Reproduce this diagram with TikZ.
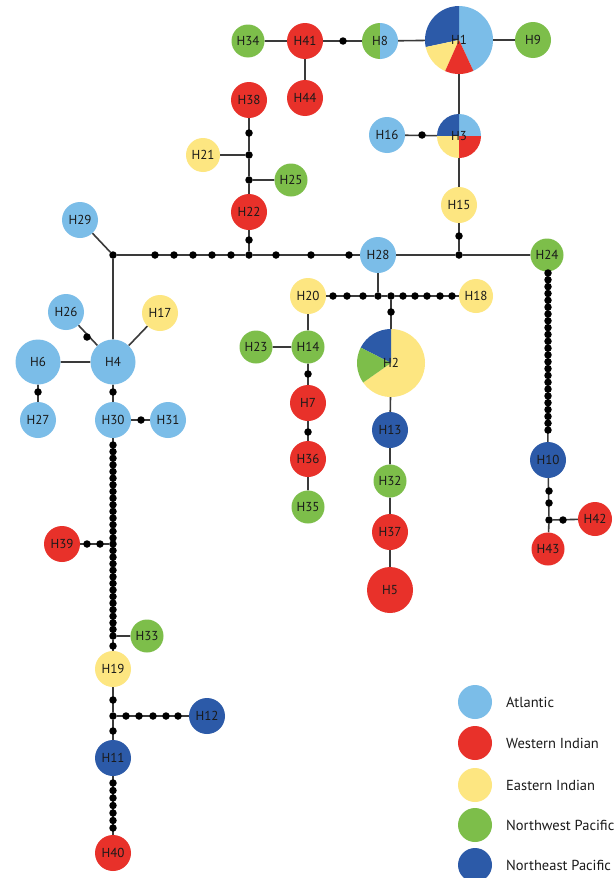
\documentclass[tikz,border=0pt]{standalone}
\usepackage{fontspec}
\setmainfont{PT Sans}
\usetikzlibrary{backgrounds}
\definecolor{atl}{HTML}{7BBDE8}
\definecolor{wio}{HTML}{E8312A}
\definecolor{eio}{HTML}{FDE681}
\definecolor{nwp}{HTML}{7DBE4A}
\definecolor{nep}{HTML}{2C5AA8}
\definecolor{edgec}{HTML}{3A3A3A}
\definecolor{txt}{HTML}{1A1A1A}
\tikzset{
  hap/.style={circle, inner sep=0pt, minimum size=36pt, text=txt, font=\fontsize{13}{15}\selectfont},
  sm/.style={minimum size=33pt},
  big/.style={minimum size=45pt},
  mv/.style={circle, fill=black, inner sep=0pt, minimum size=7.5pt},
  link/.style={draw=edgec, line width=1.6pt},
  A/.style={hap, fill=atl}, W/.style={hap, fill=wio}, E/.style={hap, fill=eio},
  G/.style={hap, fill=nwp}, B/.style={hap, fill=nep},
  legtxt/.style={anchor=west, inner sep=0pt, font=\fontsize{14.5}{17}\selectfont, text=txt}
}
\begin{document}
\begin{tikzpicture}[x=1pt, y=-1pt]
\useasboundingbox (0,0) rectangle (613,878);
% haplotypes
\node[G, sm] (H34) at (248,41) {H34};
\node[W] (H41) at (305,41) {H41};
\node[hap] (H8) at (380,41) {H8};
\node[hap, minimum size=68pt] (H1) at (459,40) {H1};
\node[G] (H9) at (533,40) {H9};
\node[W] (H44) at (305,98) {H44};
\node[W] (H38) at (249,100) {H38};
\node[A] (H16) at (387,135) {H16};
\node[hap, minimum size=44pt] (H3) at (459,136) {H3};
\node[E, minimum size=34pt] (H21) at (203,155) {H21};
\node[G, sm] (H25) at (291,180) {H25};
\node[W] (H22) at (249,212) {H22};
\node[E] (H15) at (459,205) {H15};
\node[A] (H28) at (378,255) {H28};
\node[G, sm] (H24) at (547,255) {H24};
\node[A] (H29) at (80,220) {H29};
\node[A] (H26) at (66,312) {H26};
\node[E] (H17) at (160,313) {H17};
\node[A, big] (H6) at (38,362) {H6};
\node[A, big] (H4) at (113,362) {H4};
\node[A] (H27) at (38,420) {H27};
\node[A] (H30) at (113,420) {H30};
\node[A] (H31) at (168,420) {H31};
\node[W] (H39) at (62,544) {H39};
\node[G, sm] (H33) at (147,636) {H33};
\node[E] (H19) at (113,669) {H19};
\node[B] (H12) at (207,716) {H12};
\node[B] (H11) at (113,758) {H11};
\node[W] (H40) at (113,853) {H40};
\node[E] (H20) at (308,296) {H20};
\node[E, minimum size=34pt] (H18) at (476,296) {H18};
\node[G, sm] (H23) at (256,347) {H23};
\node[G, sm] (H14) at (308,347) {H14};
\node[W] (H7) at (308,403) {H7};
\node[W] (H36) at (308,459) {H36};
\node[G, sm] (H35) at (308,507) {H35};
\node[hap, minimum size=68pt] (H2) at (391,363) {H2};
\node[B] (H13) at (390,430) {H13};
\node[G, sm] (H32) at (390,481) {H32};
\node[W] (H37) at (390,532) {H37};
\node[W, minimum size=46pt] (H5) at (390,590) {H5};
\node[B] (H10) at (548,460) {H10};
\node[W, minimum size=34pt] (H42) at (595,519) {H42};
\node[W, sm] (H43) at (548,549) {H43};
% junctions
\node[mv] (j1) at (113,255) {};
\node[mv] (j22) at (249,255) {};
\node[mv] (j15) at (459,255) {};
\node[mv] (j21) at (249,155) {};
\node[mv] (j25) at (249,180) {};
\node[mv] (j28) at (378,296) {};
\node[mv] (j2) at (391,296) {};
\node[mv] (j39) at (113,544) {};
\node[mv] (j33) at (113,636) {};
\node[mv] (j12) at (113,716) {};
\node[mv] (j42) at (549,520) {};
% single mutation dots
\node[mv] (m1) at (343,41) {};
\node[mv] (m2) at (422,135) {};
\node[mv] (m3) at (249,133) {};
\node[mv] (m4) at (249,240) {};
\node[mv] (m5) at (459,236) {};
\node[mv] (m6) at (87,337) {};
\node[mv] (m7) at (38,392) {};
\node[mv] (m8) at (113,392) {};
\node[mv] (m9) at (141,420) {};
\node[mv] (m10) at (113,646) {};
\node[mv] (m11) at (113,700) {};
\node[mv] (m12) at (113,731) {};
\node[mv] (m13) at (391,312) {};
\node[mv] (m14) at (308,374) {};
\node[mv] (m15) at (308,432) {};
\node[mv] (m16) at (563,520) {};
% chains of mutation dots
\foreach \x [count=\i] in {155,174,193,212,231} \node[mv] (ba\i) at (\x,255) {};
\foreach \x [count=\i] in {276,311,349} \node[mv] (bb\i) at (\x,255) {};
\foreach \x [count=\i] in {333,347,363} \node[mv] (ha\i) at (\x,296) {};
\foreach \x [count=\i] in {403,415,427,440,452} \node[mv] (hb\i) at (\x,296) {};
\foreach \x [count=\i] in {87,100} \node[mv] (la\i) at (\x,544) {};
\foreach \x [count=\i] in {126,139,153,166,178} \node[mv] (lb\i) at (\x,716) {};
\foreach \y [count=\i] in {491,503} \node[mv] (ra\i) at (549,\y) {};
\foreach \i in {0,...,23} {\pgfmathsetmacro{\yy}{273+\i*6.83}\node[mv] (ca\i) at (548,\yy) {};}
\foreach \i in {0,...,14} {\pgfmathsetmacro{\yy}{445+\i*6.64}\node[mv] (cb\i) at (113,\yy) {};}
\foreach \i in {1,...,13} {\pgfmathsetmacro{\yy}{544+\i*6.57}\node[mv] (cc\i) at (113,\yy) {};}
\foreach \i in {0,...,6} {\pgfmathsetmacro{\yy}{783+\i*7.5}\node[mv] (cd\i) at (113,\yy) {};}
% legend
\foreach \c/\t/\y [count=\i] in {atl/Atlantic/702, wio/Western Indian/743, eio/Eastern Indian/785, nwp/Northwest Pacific/825, nep/Northeast Pacific/865} {
  \node[hap, fill=\c, minimum size=34pt] (L\i) at (475,\y) {};
  \node[legtxt] (T\i) at (506,\y) {\t};
}
\begin{pgfonlayer}{background}
\fill[white] (0,0) rectangle (613,878);
% pie slices
\fill[nwp] (H8.center) -- ++(90:18pt) arc[start angle=90, end angle=270, radius=18pt] -- cycle;
\fill[atl] (H8.center) -- ++(-90:18pt) arc[start angle=-90, end angle=90, radius=18pt] -- cycle;
\fill[atl] (H1.center) -- ++(-65:34pt) arc[start angle=-65, end angle=90, radius=34pt] -- cycle;
\fill[nep] (H1.center) -- ++(90:34pt) arc[start angle=90, end angle=192, radius=34pt] -- cycle;
\fill[eio] (H1.center) -- ++(192:34pt) arc[start angle=192, end angle=246, radius=34pt] -- cycle;
\fill[wio] (H1.center) -- ++(246:34pt) arc[start angle=246, end angle=295, radius=34pt] -- cycle;
\fill[atl] (H3.center) -- ++(0:22pt) arc[start angle=0, end angle=90, radius=22pt] -- cycle;
\fill[nep] (H3.center) -- ++(90:22pt) arc[start angle=90, end angle=180, radius=22pt] -- cycle;
\fill[eio] (H3.center) -- ++(180:22pt) arc[start angle=180, end angle=270, radius=22pt] -- cycle;
\fill[wio] (H3.center) -- ++(270:22pt) arc[start angle=270, end angle=360, radius=22pt] -- cycle;
\fill[eio] (H2.center) -- ++(-145:34pt) arc[start angle=-145, end angle=90, radius=34pt] -- cycle;
\fill[nep] (H2.center) -- ++(90:34pt) arc[start angle=90, end angle=153, radius=34pt] -- cycle;
\fill[nwp] (H2.center) -- ++(153:34pt) arc[start angle=153, end angle=215, radius=34pt] -- cycle;
% connectors
\draw[link] (H34) -- (H41) (H41) -- (H8) (H41) -- (H44) (H8) -- (H1) (H1) -- (H9)
  (H1) -- (H3) (H16) -- (H3) (H3) -- (H15) (H15) -- (j15)
  (H38) -- (j21) (j21) -- (H21) (j21) -- (j25) (j25) -- (H25) (j25) -- (H22) (H22) -- (j22)
  (H29) -- (j1) (j1) -- (j22) (j22) -- (H28) (H28) -- (j15) (j15) -- (H24)
  (j1) -- (H4) (H26) -- (H4) (H17) -- (H4) (H6) -- (H4) (H6) -- (H27) (H4) -- (H30) (H30) -- (H31)
  (H30) -- (j39) (j39) -- (H39) (j39) -- (j33) (j33) -- (H33) (j33) -- (H19)
  (H19) -- (j12) (j12) -- (H12) (j12) -- (H11) (H11) -- (H40)
  (H28) -- (j28) (H20) -- (j28) (j28) -- (j2) (j2) -- (H18) (j2) -- (H2)
  (H20) -- (H14) (H23) -- (H14) (H14) -- (H7) (H7) -- (H36) (H36) -- (H35)
  (H2) -- (H13) (H13) -- (H32) (H32) -- (H37) (H37) -- (H5)
  (H24) -- (H10) (H10) -- (j42) (j42) -- (H42) (j42) -- (H43);
\end{pgfonlayer}
\end{tikzpicture}
\end{document}
